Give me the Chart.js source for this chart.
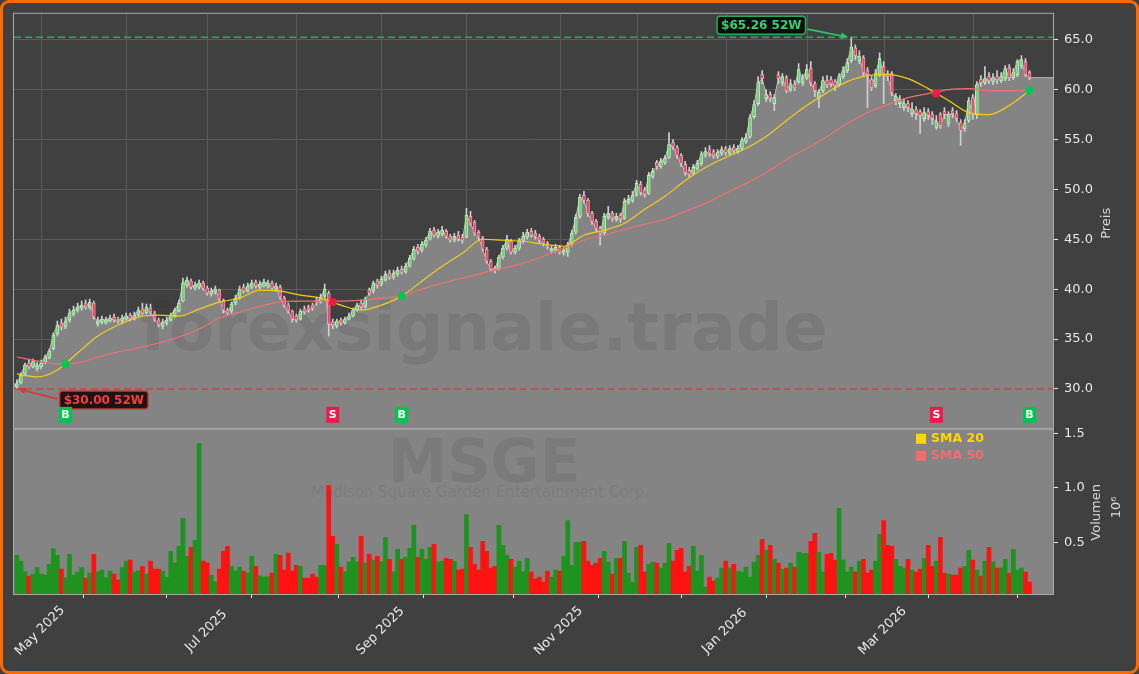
<!DOCTYPE html>
<html><head><meta charset="utf-8">
<script src="https://cdn.jsdelivr.net/npm/chart.js@4.4.1/dist/chart.umd.min.js"></script>
<style>
html,body{margin:0;padding:0;background:#404040;overflow:hidden;}
#frame{position:absolute;left:0;top:0;width:1139px;height:674px;box-sizing:border-box;border:3px solid #ff6a00;border-radius:9px;background:#404040;}
#c{position:absolute;left:0;top:0;}
</style></head><body>
<div id="frame"></div>
<canvas id="c" width="1139" height="674"></canvas>
<script>
// ---- data ----
const ticker = 'MSGE';
const companyName = 'Madison Square Garden Entertainment Corp.';
const closes = [
30.5,31.4,32.4,32.2,32.8,32.3,32.6,33.2,33.8,35.4,
36.4,36.2,36.8,37.6,37.9,38.2,38.4,38.2,38.7,37.2,
36.8,37.0,36.9,37.1,36.9,36.8,37.1,37.3,37.0,37.4,
37.9,37.6,38.2,37.7,37.0,36.4,36.7,36.9,37.4,37.9,
38.6,40.6,40.9,40.2,40.4,40.6,40.1,39.6,39.8,40.0,
39.0,37.9,37.6,38.5,39.1,40.0,39.8,40.3,40.6,40.3,
40.5,40.7,40.6,40.1,40.3,39.2,38.4,37.8,37.0,36.9,
37.8,37.7,37.9,38.1,38.6,39.2,40.0,36.5,36.4,36.8,
36.6,37.0,37.3,37.9,38.4,38.2,38.9,39.6,40.6,40.4,
41.0,41.5,41.2,41.6,41.9,41.7,42.3,43.1,44.0,43.8,
44.5,44.9,45.8,45.4,45.7,45.9,45.3,44.9,45.3,45.0,
44.9,47.4,46.6,45.6,45.2,44.0,42.8,42.0,41.9,43.2,
44.1,45.0,43.7,44.1,44.8,45.3,45.7,45.4,45.3,44.9,
44.6,44.3,44.0,44.2,43.7,43.9,44.4,45.6,47.2,49.2,
48.9,47.6,46.8,46.1,45.6,47.3,47.6,47.1,47.3,47.0,
48.8,49.0,49.4,50.6,49.7,49.5,51.4,51.8,52.3,52.8,
53.1,54.5,54.3,53.4,52.6,51.7,51.5,52.2,52.6,53.5,
53.8,53.6,53.4,53.7,54.0,53.7,54.1,53.9,54.1,54.9,
55.2,57.2,58.5,60.7,61.1,59.5,59.1,59.2,61.1,61.3,
59.9,60.6,60.2,62.0,61.1,62.0,60.7,59.9,59.7,60.9,
60.5,60.6,60.4,61.3,61.9,62.7,64.3,63.4,63.3,61.7,
61.5,60.2,61.6,63.1,61.6,61.3,59.7,59.3,59.0,58.6,
58.2,58.0,57.6,57.4,57.7,57.4,57.1,56.8,56.4,57.5,
57.5,57.6,57.1,55.9,56.6,58.9,57.6,60.5,60.7,61.1,
60.9,61.2,61.0,61.3,62.1,61.2,61.7,62.8,63.0,61.5,
61.2];
const opens = [
30.2,30.6,31.5,32.6,32.2,32.0,32.2,32.7,33.1,34.0,
35.5,36.6,36.2,36.9,37.5,37.9,38.1,38.6,38.2,38.6,
36.5,36.7,36.6,36.8,37.2,37.0,36.8,37.0,37.4,37.0,
37.4,38.0,37.6,38.1,37.6,36.9,36.3,36.6,36.9,37.3,
37.8,38.8,40.4,40.8,40.1,40.2,40.6,40.1,39.5,39.7,
39.9,38.9,37.9,37.8,38.6,39.1,40.2,39.8,40.2,40.7,
40.2,40.3,40.3,40.6,40.0,40.2,39.1,38.4,37.8,37.3,
37.0,38.0,38.2,38.4,38.9,38.7,39.3,39.6,36.7,36.3,
36.9,36.6,37.0,37.3,37.9,38.6,38.2,39.9,39.8,40.8,
40.5,40.9,41.6,41.2,41.5,42.0,41.7,42.3,43.0,44.2,
43.9,44.4,45.0,45.9,45.3,45.5,45.8,45.3,44.9,45.4,
45.2,45.2,47.3,46.7,45.7,45.1,44.0,42.8,42.1,42.0,
43.2,44.1,44.8,43.7,44.1,44.8,45.2,45.8,45.6,45.3,
45.0,44.6,43.8,43.9,44.2,43.6,43.7,44.5,45.7,47.3,
49.4,48.9,47.6,46.8,46.1,45.6,47.2,47.6,47.0,47.4,
47.1,48.7,48.9,49.5,50.5,49.9,49.6,51.3,52.7,52.3,
52.7,53.2,54.7,54.2,53.4,52.5,51.9,51.6,52.1,52.6,
53.4,54.0,53.8,53.3,53.6,54.1,53.6,54.2,53.8,54.1,
54.8,55.3,57.3,58.6,61.5,59.1,59.5,58.6,61.5,60.7,
61.2,60.0,60.5,60.8,60.7,61.2,62.1,60.6,59.2,59.9,
60.9,61.0,60.8,60.5,61.3,61.9,62.9,64.2,62.9,63.2,
61.9,61.0,60.4,61.5,62.3,61.6,61.6,58.9,58.6,58.2,
58.6,57.6,58.0,57.8,57.1,57.8,57.5,56.2,57.5,57.8,
56.6,57.9,57.6,56.7,56.1,56.9,59.2,57.5,61.0,60.7,
61.3,60.8,61.3,60.9,61.1,62.2,61.2,61.5,62.4,62.8,
61.7];
const highs = [
30.9,31.6,32.6,32.9,33.0,32.7,32.9,33.4,34.0,35.6,
36.8,37.0,37.2,38.0,38.3,38.6,38.8,38.9,39.0,38.8,
37.2,37.3,37.2,37.4,37.5,37.2,37.4,37.6,37.6,37.7,
38.2,38.6,38.5,38.5,37.8,37.1,37.0,37.2,37.6,38.1,
38.9,41.1,41.2,41.0,40.7,40.9,40.8,40.3,40.1,40.3,
40.0,39.0,38.1,38.7,39.4,40.3,40.5,40.6,40.9,40.9,
40.8,41.0,40.9,40.8,40.6,40.4,39.3,38.6,37.9,37.5,
38.0,38.3,38.4,38.6,39.2,39.5,40.5,39.8,37.0,37.0,
37.1,37.2,37.6,38.1,38.6,38.9,39.2,40.1,40.8,41.0,
41.3,41.8,41.9,41.9,42.2,42.3,42.6,43.4,44.3,44.5,
44.8,45.2,46.1,46.2,46.0,46.3,46.0,45.5,45.6,45.8,
45.5,48.1,47.8,46.9,45.9,45.3,44.2,43.0,42.3,43.4,
44.4,45.4,45.0,44.4,45.1,45.7,46.0,46.1,45.9,45.5,
45.2,44.8,44.3,44.5,44.4,44.2,44.7,45.9,47.5,49.5,
49.8,49.1,47.8,47.0,46.3,47.6,48.3,47.8,47.6,47.6,
49.1,49.4,49.8,50.9,50.8,50.2,51.7,52.1,52.9,53.1,
53.4,55.7,55.0,54.4,53.6,52.8,52.2,52.5,52.9,53.8,
54.2,54.4,54.0,54.0,54.3,54.3,54.4,54.5,54.4,55.2,
55.6,57.5,58.9,61.3,61.9,60.0,59.8,59.5,61.8,61.6,
61.4,61.0,60.9,62.6,61.5,62.5,62.8,60.8,60.0,61.3,
61.4,61.3,61.0,61.6,62.3,63.1,65.26,64.5,63.9,63.4,
62.2,61.3,62.0,63.7,62.8,61.9,61.8,59.6,59.4,59.1,
58.9,58.7,58.3,58.0,58.2,58.1,57.8,57.4,57.7,58.2,
57.8,58.2,57.9,57.0,57.0,59.2,59.5,60.8,61.4,62.3,
61.7,61.6,61.9,61.7,62.4,62.5,62.1,63.0,63.4,63.1,
61.9];
const lows = [
30.0,30.5,31.3,32.0,32.1,31.8,32.0,32.5,33.0,33.9,
35.3,35.9,36.0,36.7,37.3,37.7,37.9,38.0,38.0,37.0,
36.3,36.5,36.5,36.7,36.7,36.6,36.6,36.9,36.8,36.9,
37.3,37.4,37.5,37.5,36.8,36.2,36.0,36.4,36.8,37.2,
37.7,38.7,40.2,40.0,39.9,40.0,39.9,39.4,39.3,39.5,
38.8,37.6,37.4,37.6,38.4,39.0,39.6,39.7,40.0,40.1,
40.0,40.2,40.1,39.9,39.8,39.0,38.2,37.6,36.7,36.7,
36.9,37.5,37.7,37.9,38.4,38.6,39.2,35.3,36.0,36.1,
36.4,36.5,36.9,37.2,37.8,38.0,38.1,39.4,39.6,40.1,
40.3,40.8,41.0,41.0,41.3,41.5,41.6,42.2,42.9,43.5,
43.7,44.2,44.9,45.2,45.1,45.3,45.1,44.7,44.7,44.8,
44.6,45.1,46.4,45.4,44.9,43.8,42.6,41.8,41.6,41.9,
43.0,43.9,43.5,43.5,43.9,44.6,45.0,45.2,45.0,44.6,
44.3,44.0,43.6,43.7,43.5,43.4,43.3,44.3,45.5,47.1,
48.6,47.3,46.5,45.8,44.4,45.4,47.0,46.8,46.8,46.7,
47.0,48.5,48.7,49.3,49.4,49.2,49.5,51.1,52.0,52.1,
52.5,53.1,54.0,53.1,52.3,51.4,51.2,51.4,51.9,52.4,
53.2,53.3,53.1,53.1,53.4,53.4,53.4,53.6,53.6,53.9,
54.6,55.1,57.1,58.4,60.6,58.8,58.8,57.9,60.6,60.4,
59.7,59.8,59.9,60.6,60.4,61.0,60.4,59.3,58.2,59.7,
60.2,60.3,59.9,60.3,61.1,61.7,62.7,63.0,62.6,61.4,
58.2,59.9,60.2,61.3,58.6,60.9,59.4,58.5,58.2,57.9,
57.8,57.3,57.0,55.6,56.8,57.0,56.5,56.0,56.1,57.1,
56.3,57.2,56.8,54.4,55.8,56.7,57.0,57.1,60.3,60.5,
60.6,60.5,60.6,60.7,60.9,60.9,61.0,61.3,62.1,61.3,
61.0];
// volume in millions
const volumes = [
0.384,0.330,0.233,0.193,0.211,0.272,0.211,0.202,0.302,0.445,
0.384,0.257,0.178,0.393,0.202,0.233,0.272,0.175,0.224,0.393,
0.233,0.248,0.178,0.239,0.211,0.157,0.272,0.330,0.339,0.230,
0.242,0.284,0.211,0.330,0.257,0.257,0.239,0.184,0.421,0.315,
0.466,0.721,0.375,0.457,0.521,1.405,0.330,0.315,0.202,0.142,
0.257,0.421,0.466,0.284,0.242,0.275,0.239,0.224,0.375,0.284,
0.193,0.187,0.187,0.224,0.393,0.384,0.248,0.405,0.242,0.293,
0.284,0.175,0.175,0.211,0.184,0.293,0.293,1.021,0.557,0.484,
0.275,0.233,0.324,0.366,0.324,0.557,0.312,0.393,0.339,0.375,
0.324,0.545,0.348,0.233,0.439,0.348,0.366,0.448,0.657,0.366,
0.439,0.348,0.457,0.484,0.321,0.330,0.357,0.348,0.330,0.248,
0.257,0.757,0.457,0.302,0.248,0.511,0.421,0.266,0.284,0.657,
0.475,0.384,0.348,0.275,0.330,0.233,0.357,0.230,0.166,0.184,
0.139,0.239,0.184,0.248,0.239,0.375,0.702,0.293,0.502,0.502,
0.511,0.330,0.293,0.312,0.357,0.421,0.321,0.211,0.357,0.357,
0.511,0.221,0.139,0.457,0.475,0.233,0.302,0.321,0.312,0.266,
0.312,0.493,0.330,0.430,0.448,0.230,0.284,0.466,0.239,0.384,
0.093,0.184,0.148,0.175,0.266,0.330,0.266,0.302,0.239,0.230,
0.275,0.184,0.321,0.384,0.530,0.430,0.475,0.348,0.312,0.257,
0.266,0.312,0.275,0.411,0.402,0.402,0.511,0.584,0.411,0.230,
0.393,0.402,0.339,0.812,0.339,0.230,0.275,0.230,0.330,0.348,
0.221,0.248,0.330,0.575,0.702,0.475,0.466,0.348,0.284,0.266,
0.348,0.248,0.230,0.257,0.357,0.475,0.284,0.330,0.548,0.221,
0.211,0.202,0.202,0.266,0.284,0.430,0.339,0.248,0.193,0.330,
0.457,0.321,0.266,0.266,0.348,0.221,0.439,0.248,0.266,0.230,
0.139];
// moving averages, read every 5 sessions
const smaIdx = [0,5,10,15,20,25,30,35,40,45,50,55,60,65,70,75,80,85,90,95,100,105,110,115,120,125,130,135,140,145,150,155,160,165,170,175,180,185,190,195,200,205,210,215,220,225,230,235,240,245,250];
const sma20 = [31.5,31.2,31.9,33.6,35.3,36.4,37.2,37.4,37.3,38.0,38.7,39.1,39.9,39.8,39.4,39.1,38.4,37.9,38.4,39.3,40.8,42.3,43.6,45.0,44.9,44.8,44.5,44.3,45.4,45.9,46.6,48.0,49.3,50.9,52.2,53.2,54.1,55.3,56.9,58.4,59.7,60.8,61.4,61.5,61.1,60.1,58.9,57.7,57.5,58.4,59.9];
const sma50 = [33.2,32.8,32.5,32.6,33.2,33.7,34.1,34.6,35.2,36.0,37.1,37.7,38.3,38.7,38.8,38.8,38.8,38.9,39.1,39.3,40.0,40.6,41.1,41.6,42.1,42.6,43.3,44.1,44.9,45.4,46.0,46.5,47.0,47.8,48.6,49.6,50.6,51.7,53.0,54.1,55.3,56.6,57.7,58.5,59.2,59.6,60.0,60.1,59.9,59.9,59.9];
// crossover signals
const signalIdx = [12,78,95,227,250];
const signalType = ['B','S','B','S','B'];
const signalPrice = [32.5,38.7,39.3,59.6,59.9];
// axis ticks
const monthIdx = [6,27,47,69,90,111,134,153,175,195,214,236];
const monthLabels = ['May 2025','','Jul 2025','','Sep 2025','','Nov 2025','','Jan 2026','','Mar 2026',''];
const priceTicks = [30,35,40,45,50,55,60,65];
const volTicks = [0.5,1.0,1.5];

// ---- layout / style constants ----
const X_MIN = -0.7, X_MAX = 255.8;
const P_MIN = 26.0, P_MAX = 67.6, V_MIN = 0.03, V_MAX = 1.54;
const SIGNAL_ROW = 27.4;
const BG = '#404040', PANEL_GRAY = '#848484', GRID = '#5b5b5b', SPINE = '#aaaaaa', TXT = '#e8e8e8';
const UP_FILL = '#74d274', UP_EDGE = '#c8f2c8', DN_FILL = '#e44c68', DN_EDGE = '#f5adbb', WICK = '#cfcfcf';
const FONT = '"DejaVu Sans", sans-serif';

Chart.defaults.font.family = FONT;
const N = closes.length;
const idx = closes.map((_, i) => i);
const isUp = i => closes[i] >= opens[i];
const hiVal = Math.max(...highs), hiIdx = highs.indexOf(hiVal);
const loVal = Math.min(...lows), loIdx = lows.indexOf(loVal);

function roundRect(ctx, x, y, w, h, r) {
  ctx.beginPath();
  ctx.moveTo(x + r, y); ctx.lineTo(x + w - r, y); ctx.quadraticCurveTo(x + w, y, x + w, y + r);
  ctx.lineTo(x + w, y + h - r); ctx.quadraticCurveTo(x + w, y + h, x + w - r, y + h);
  ctx.lineTo(x + r, y + h); ctx.quadraticCurveTo(x, y + h, x, y + h - r);
  ctx.lineTo(x, y + r); ctx.quadraticCurveTo(x, y, x + r, y); ctx.closePath();
}
function arrow(ctx, x1, y1, x2, y2, color) {
  const a = Math.atan2(y2 - y1, x2 - x1), hl = 8;
  ctx.strokeStyle = color; ctx.fillStyle = color; ctx.lineWidth = 1.6; ctx.setLineDash([]);
  ctx.beginPath(); ctx.moveTo(x1, y1); ctx.lineTo(x2 - hl * 0.8 * Math.cos(a), y2 - hl * 0.8 * Math.sin(a)); ctx.stroke();
  ctx.beginPath(); ctx.moveTo(x2, y2);
  ctx.lineTo(x2 - hl * Math.cos(a - 0.42), y2 - hl * Math.sin(a - 0.42));
  ctx.lineTo(x2 - hl * Math.cos(a + 0.42), y2 - hl * Math.sin(a + 0.42));
  ctx.closePath(); ctx.fill();
}
function labelBox(ctx, text, cx, cy, fg, bg, edge) {
  ctx.font = 'bold 12px ' + FONT;
  const w = ctx.measureText(text).width + 8, h = 18;
  roundRect(ctx, cx - w / 2, cy - h / 2, w, h, 3);
  ctx.fillStyle = bg; ctx.fill();
  ctx.lineWidth = 1.5; ctx.strokeStyle = edge; ctx.setLineDash([]); ctx.stroke();
  ctx.fillStyle = fg; ctx.textAlign = 'center'; ctx.textBaseline = 'middle';
  ctx.fillText(text, cx, cy + 0.5);
  return w;
}

const panelPlugin = {
  id: 'panels',
  beforeDraw(chart) {
    const { ctx, chartArea: a, scales: { y, yv } } = chart;
    ctx.save();
    ctx.fillStyle = BG; ctx.fillRect(a.left, y.top, a.right - a.left, y.bottom - y.top);
    ctx.fillStyle = PANEL_GRAY; ctx.fillRect(a.left, yv.top, a.right - a.left, yv.bottom - yv.top);
    ctx.restore();
  },
  beforeDatasetsDraw(chart) {
    const { ctx, scales: { x, y } } = chart;
    ctx.save(); ctx.strokeStyle = GRID; ctx.lineWidth = 1;
    monthIdx.forEach(m => {
      const px = Math.round(x.getPixelForValue(m)) + 0.5;
      ctx.beginPath(); ctx.moveTo(px, y.top); ctx.lineTo(px, y.bottom); ctx.stroke();
    });
    ctx.restore();
  },
  afterDatasetDraw(chart, args) {
    if (args.index !== 0) return;
    const { ctx } = chart;
    ctx.save();
    ctx.textAlign = 'center'; ctx.textBaseline = 'alphabetic';
    ctx.fillStyle = 'rgba(40,40,40,0.11)';
    ctx.font = 'bold 66px ' + FONT;
    ctx.fillText('forexsignale.trade', 484, 350);
    ctx.fillStyle = 'rgba(40,40,40,0.10)';
    ctx.font = 'bold 60px ' + FONT;
    ctx.fillText(ticker, 484, 482);
    ctx.font = '15px ' + FONT;
    ctx.fillStyle = 'rgba(40,40,40,0.08)';
    ctx.fillText(companyName, 480, 497);
    ctx.restore();
  },
  afterDatasetsDraw(chart) {
    const { ctx, chartArea: a, scales: { x, y, yv } } = chart;
    ctx.save();
    // 52-week lines
    const yHi = y.getPixelForValue(hiVal), yLo = y.getPixelForValue(loVal);
    ctx.lineWidth = 1.5; ctx.setLineDash([7, 4]);
    ctx.strokeStyle = 'rgba(52,180,100,0.85)';
    ctx.beginPath(); ctx.moveTo(a.left, yHi); ctx.lineTo(a.right, yHi); ctx.stroke();
    ctx.strokeStyle = 'rgba(214,60,60,0.85)';
    ctx.beginPath(); ctx.moveTo(a.left, yLo); ctx.lineTo(a.right, yLo); ctx.stroke();
    ctx.setLineDash([]);
    // spines
    ctx.strokeStyle = SPINE; ctx.lineWidth = 1;
    ctx.strokeRect(a.left - 0.5, y.top - 0.5, a.right - a.left + 1, y.bottom - y.top);
    ctx.strokeRect(a.left - 0.5, yv.top + 0.5, a.right - a.left + 1, yv.bottom - yv.top);
    // 52W labels with arrows
    const hx = x.getPixelForValue(hiIdx), lx = x.getPixelForValue(loIdx);
    const hText = '$' + hiVal.toFixed(2) + ' 52W', lText = '$' + loVal.toFixed(2) + ' 52W';
    const hcx = hx - 90, hcy = yHi - 12;
    const hw = labelBox(ctx, hText, hcx, hcy, '#2fd46f', '#0b0b0b', '#2aa85a');
    arrow(ctx, hcx + hw / 2 + 2, hcy + 4, hx - 3, yHi, '#2fc66a');
    const lcx = lx + 87, lcy = yLo + 11;
    const lw = labelBox(ctx, lText, lcx, lcy, '#ff3a3a', '#1c1414', '#c43a3a');
    arrow(ctx, lcx - lw / 2 - 2, lcy - 1, lx + 1, yLo, '#e03434');
    // signal markers
    const sy = y.getPixelForValue(SIGNAL_ROW);
    signalIdx.forEach((si, k) => {
      const px = x.getPixelForValue(si);
      ctx.fillStyle = signalType[k] === 'B' ? '#00c44f' : '#ee1a4c';
      ctx.fillRect(px - 6.5, sy - 8, 13, 16);
      ctx.fillStyle = '#ffffff'; ctx.font = 'bold 11px ' + FONT;
      ctx.textAlign = 'center'; ctx.textBaseline = 'middle';
      ctx.fillText(signalType[k], px, sy + 0.5);
    });
    // legend
    const lgx = a.right - 137, lgy = yv.top + 10;
    [['SMA 20', '#ffd700'], ['SMA 50', '#f26d6d']].forEach(([t, c], k) => {
      ctx.fillStyle = c; ctx.fillRect(lgx, lgy - 5 + k * 17, 10, 10);
      ctx.font = 'bold 12.5px ' + FONT; ctx.textAlign = 'left'; ctx.textBaseline = 'middle';
      ctx.fillText(t, lgx + 15, lgy + k * 17);
    });
    ctx.restore();
  },
  afterDraw(chart) {
    const { ctx, chartArea: a, scales: { x, y, yv } } = chart;
    ctx.save();
    ctx.fillStyle = TXT; ctx.font = '13px ' + FONT;
    ctx.textAlign = 'center'; ctx.textBaseline = 'middle';
    monthIdx.forEach((m, k) => {
      if (!monthLabels[k]) return;
      ctx.save();
      ctx.translate(x.getPixelForValue(m) - 1, x.top + 37);
      ctx.rotate(-Math.PI / 4);
      ctx.fillText(monthLabels[k], 0, 0);
      ctx.restore();
    });
    ctx.fillStyle = '#d8d8d8';
    const vt = (t, px, py) => { ctx.save(); ctx.translate(px, py); ctx.rotate(-Math.PI / 2); ctx.fillText(t, 0, 0); ctx.restore(); };
    vt('Preis', a.right + 54, (y.top + y.bottom) / 2 + 2);
    vt('Volumen', a.right + 44, (yv.top + yv.bottom) / 2 + 1);
    vt('10\u2076', a.right + 64, (yv.top + yv.bottom) / 2 - 4);
    ctx.restore();
  }
};

const yAxisCommon = {
  type: 'linear', position: 'right', stack: 'panels',
  border: { display: false },
  ticks: { color: TXT, font: { size: 13, family: FONT }, padding: 6, callback: v => Number(v).toFixed(1) },
  afterFit: s => { s.width = 86; }
};

// the shaded close area runs across the whole panel, flat beyond both ends of the data
const areaData = [{ x: X_MIN, y: closes[0] }]
  .concat(idx.map(i => ({ x: i, y: closes[i] })))
  .concat([{ x: X_MAX, y: closes[N - 1] }]);

new Chart(document.getElementById('c'), {
  type: 'bar',
  data: {
    datasets: [
      { type: 'line', label: 'Close', yAxisID: 'y', order: 10, data: areaData,
        borderColor: '#b9b9b9', borderWidth: 1, backgroundColor: PANEL_GRAY, fill: 'start',
        pointRadius: 0, tension: 0 },
      { type: 'bar', label: 'Volumen', yAxisID: 'yv', order: 9, grouped: false,
        data: idx.map(i => ({ x: i, y: volumes[i] })),
        backgroundColor: c => isUp(c.dataIndex) ? '#1f931f' : '#ff1212',
        barPercentage: 1, categoryPercentage: 1, borderWidth: 0 },
      { type: 'bar', label: 'HL', yAxisID: 'y', order: 8, grouped: false,
        data: idx.map(i => ({ x: i, y: [lows[i], highs[i]] })),
        backgroundColor: WICK, barThickness: 1, borderWidth: 0 },
      { type: 'bar', label: 'OC', yAxisID: 'y', order: 7, grouped: false,
        data: idx.map(i => ({ x: i, y: [opens[i], closes[i]] })),
        backgroundColor: c => isUp(c.dataIndex) ? UP_FILL : DN_FILL,
        borderColor: c => isUp(c.dataIndex) ? UP_EDGE : DN_EDGE,
        borderWidth: 0.8, borderSkipped: false, barThickness: 3 },
      { type: 'line', label: 'SMA 50', yAxisID: 'y', order: 6,
        data: smaIdx.map((v, k) => ({ x: v, y: sma50[k] })),
        borderColor: '#f07070', borderWidth: 1.2, pointRadius: 0, cubicInterpolationMode: 'monotone', fill: false },
      { type: 'line', label: 'SMA 20', yAxisID: 'y', order: 5,
        data: smaIdx.map((v, k) => ({ x: v, y: sma20[k] })),
        borderColor: '#f5cc1c', borderWidth: 1.2, pointRadius: 0, cubicInterpolationMode: 'monotone', fill: false },
      { type: 'scatter', label: 'Signale', yAxisID: 'y', order: 4,
        data: signalIdx.map((v, k) => ({ x: v, y: signalPrice[k] })),
        pointRadius: 4, pointBorderWidth: 0,
        pointBackgroundColor: c => signalType[c.dataIndex] === 'B' ? '#00c853' : '#ff1744' }
    ]
  },
  options: {
    responsive: false, animation: false, devicePixelRatio: 1,
    layout: { padding: { left: 14, top: 11, right: 0, bottom: 0 } },
    plugins: { legend: { display: false }, tooltip: { enabled: false } },
    scales: {
      x: { type: 'linear', min: X_MIN, max: X_MAX, offset: false,
        afterBuildTicks: s => { s.ticks = monthIdx.map(v => ({ value: v })); },
        grid: { display: true, drawOnChartArea: false, drawTicks: true, tickLength: 4, tickColor: '#e6e6e6', tickWidth: 1 },
        border: { display: false },
        ticks: { display: false, autoSkip: false },
        afterFit: s => { s.height = 80; } },
      y: Object.assign({}, yAxisCommon, { stackWeight: 417, min: P_MIN, max: P_MAX,
        afterBuildTicks: s => { s.ticks = priceTicks.map(v => ({ value: v })); },
        grid: { color: GRID, lineWidth: 1, tickColor: '#e6e6e6', tickLength: 5 } }),
      yv: Object.assign({}, yAxisCommon, { stackWeight: 166, min: V_MIN, max: V_MAX,
        afterBuildTicks: s => { s.ticks = volTicks.map(v => ({ value: v })); },
        grid: { drawOnChartArea: false, tickColor: '#e6e6e6', tickLength: 5 } })
    }
  },
  plugins: [panelPlugin]
});
</script>
</body></html>
